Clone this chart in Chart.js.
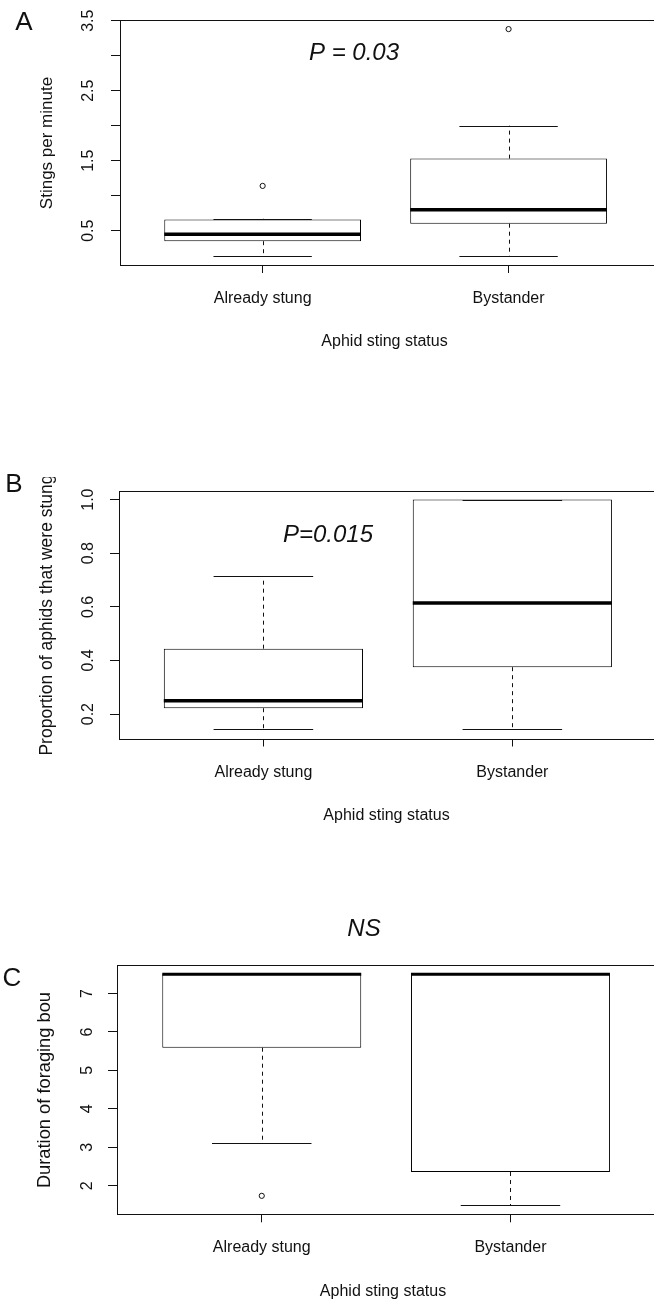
<!DOCTYPE html>
<html>
<head>
<meta charset="utf-8">
<script src="https://cdn.jsdelivr.net/npm/chart.js@4.4.1/dist/chart.umd.min.js"></script>
<style>
  body { margin: 0; background: #fff; width: 654px; height: 1303px; overflow: hidden; position: relative; }
  .panel { position: absolute; left: 0; }
  canvas { display: block; }
</style>
</head>
<body>
<div class="panel" style="top:0px"><canvas id="chartA" width="654" height="360" style="width:654px;height:360px"></canvas></div>
<div class="panel" style="top:470px"><canvas id="chartB" width="654" height="380" style="width:654px;height:380px"></canvas></div>
<div class="panel" style="top:910px"><canvas id="chartC" width="654" height="393" style="width:654px;height:393px"></canvas></div>
<script>
// categories on the x axis
const categories = ['Already stung', 'Bystander'];
const xTitle = 'Aphid sting status';

// A - stings per minute (lower whisker, Q1, median, Q3, upper whisker, outliers)
const stingsLow = [0.14, 0.14];
const stingsQ1 = [0.35, 0.60];
const stingsMed = [0.45, 0.80];
const stingsQ3 = [0.66, 1.53];
const stingsHigh = [0.67, 2.00];
const stingsOut = [[1.14], [3.38]];
const stingsTicks = [0.5, 1, 1.5, 2, 2.5, 3, 3.5];
const stingsTickLabels = ['0.5', '', '1.5', '', '2.5', '', '3.5'];

// B - proportion of aphids that were stung
const propLow = [0.143, 0.143];
const propQ1 = [0.222, 0.375];
const propMed = [0.25, 0.614];
const propQ3 = [0.444, 1.0];
const propHigh = [0.714, 1.0];
const propOut = [[], []];
const propTicks = [0.2, 0.4, 0.6, 0.8, 1.0];
const propTickLabels = ['0.2', '0.4', '0.6', '0.8', '1.0'];

// C - duration of foraging bout
const durLow = [3.11, 1.5];
const durQ1 = [5.59, 2.36];
const durMed = [7.5, 7.5];
const durQ3 = [7.5, 7.5];
const durHigh = [7.5, 7.5];
const durOut = [[1.74], []];
const durTicks = [2, 3, 4, 5, 6, 7];
const durTickLabels = ['2', '3', '4', '5', '6', '7'];

const FONT = 'Liberation Sans, Arial, Helvetica, sans-serif';
const INK = '#111';

// whiskers, medians, frame and the loose text of each panel
function boxExtras(p) {
    return {
        id: 'boxExtras',
        afterDatasetsDraw(chart) {
            const ctx = chart.ctx;
            const x = chart.scales.x, y = chart.scales.y;
            ctx.save();
            ctx.strokeStyle = INK;
            ctx.lineWidth = 1;
            categories.forEach((c, i) => {
                const cx = Math.round(x.getPixelForValue(i + 1)) + 0.5;
                const capL = x.getPixelForValue(i + 1 - 0.2), capR = x.getPixelForValue(i + 1 + 0.2);
                const yQ1 = y.getPixelForValue(p.q1[i]), yQ3 = y.getPixelForValue(p.q3[i]);
                const yLo = y.getPixelForValue(p.low[i]), yHi = y.getPixelForValue(p.high[i]);
                ctx.setLineDash([4, 4]);
                ctx.beginPath();
                ctx.moveTo(cx, yQ3); ctx.lineTo(cx, yHi);
                ctx.moveTo(cx, yQ1); ctx.lineTo(cx, yLo);
                ctx.stroke();
                ctx.setLineDash([]);
                ctx.beginPath();
                ctx.moveTo(capL, Math.round(yHi) + 0.5); ctx.lineTo(capR, Math.round(yHi) + 0.5);
                ctx.moveTo(capL, Math.round(yLo) + 0.5); ctx.lineTo(capR, Math.round(yLo) + 0.5);
                ctx.stroke();
                // median
                ctx.strokeStyle = '#000';
                ctx.lineWidth = p.medWidth;
                ctx.beginPath();
                ctx.moveTo(x.getPixelForValue(i + 1 - 0.4), y.getPixelForValue(p.med[i]));
                ctx.lineTo(x.getPixelForValue(i + 1 + 0.4), y.getPixelForValue(p.med[i]));
                ctx.stroke();
                ctx.strokeStyle = INK;
                ctx.lineWidth = 1;
            });
            ctx.restore();
        },
        afterDraw(chart) {
            const ctx = chart.ctx;
            const a = chart.chartArea;
            const y = chart.scales.y;
            ctx.save();
            // plot frame (right side runs off the page)
            ctx.strokeStyle = INK;
            ctx.lineWidth = 1;
            ctx.strokeRect(Math.round(a.left) + 0.5, Math.round(a.top) + 0.5, a.right - a.left + 10, Math.round(a.bottom) - Math.round(a.top));

            ctx.fillStyle = INK;
            // rotated y tick labels
            ctx.font = '16px ' + FONT;
            ctx.textAlign = 'center';
            ctx.textBaseline = 'middle';
            p.ticks.forEach((v, i) => {
                if (!p.tickLabels[i]) return;
                ctx.save();
                ctx.translate(p.tickLabelX, y.getPixelForValue(v));
                ctx.rotate(-Math.PI / 2);
                ctx.fillText(p.tickLabels[i], 0, 0);
                ctx.restore();
            });
            // y title, clipped at the top like the original
            ctx.save();
            ctx.beginPath();
            ctx.rect(0, p.clipTop, chart.width, chart.height);
            ctx.clip();
            ctx.font = p.yTitleSize + 'px ' + FONT;
            ctx.translate(p.yTitleX, p.yTitleY);
            ctx.rotate(-Math.PI / 2);
            ctx.fillText(p.yTitle, 0, 0);
            ctx.restore();
            // panel letter
            ctx.font = '26px ' + FONT;
            ctx.fillText(p.letter, p.letterX, p.letterY);
            // test result
            ctx.font = 'italic 24px ' + FONT;
            ctx.fillText(p.note, p.noteX, p.noteY);
            ctx.restore();
        }
    };
}

function makePanel(canvasId, p) {
    const canvas = document.getElementById(canvasId);
    const H = canvas.height;
    const outPts = [];
    p.out.forEach((arr, i) => arr.forEach(v => outPts.push({ x: i + 1, y: v })));
    return new Chart(canvas, {
        type: 'bar',
        data: {
            datasets: [{
                type: 'bar',
                data: categories.map((c, i) => ({ x: i + 1, y: [p.q1[i], p.q3[i]] })),
                backgroundColor: '#ffffff',
                borderColor: '#000',
                borderWidth: 1,
                borderSkipped: false,
                barPercentage: 0.8,
                categoryPercentage: 1
            }, {
                type: 'scatter',
                data: outPts,
                pointRadius: 2.6,
                pointBorderWidth: 1,
                pointBorderColor: INK,
                pointBackgroundColor: '#ffffff'
            }]
        },
        options: {
            responsive: false,
            animation: false,
            devicePixelRatio: 1,
            events: [],
            layout: { padding: { top: p.top, left: 0, right: 0, bottom: 0 } },
            plugins: { legend: { display: false }, tooltip: { enabled: false } },
            scales: {
                x: {
                    type: 'linear',
                    min: p.xMin,
                    max: p.xMax,
                    offset: false,
                    border: { display: false },
                    grid: { display: true, offset: false, drawOnChartArea: false, drawTicks: true, tickLength: 8, color: INK },
                    ticks: {
                        autoSkip: false, maxRotation: 0, minRotation: 0, padding: 16, color: INK,
                        font: { family: FONT, size: 16 },
                        callback: v => categories[Math.round(v) - 1] || ''
                    },
                    title: {
                        display: true, text: xTitle, color: INK,
                        font: { family: FONT, size: 16 },
                        padding: { top: 0, bottom: H - 9.6 - p.bottom - 77 }
                    },
                    afterBuildTicks: s => { s.ticks = categories.map((c, i) => ({ value: i + 1 })); },
                    afterFit: s => { s.height = H - p.bottom; }
                },
                y: {
                    type: 'linear',
                    min: p.yMin,
                    max: p.yMax,
                    border: { display: false },
                    grid: { display: true, drawOnChartArea: false, drawTicks: true, tickLength: 9, color: INK },
                    ticks: { display: false },
                    afterBuildTicks: s => { s.ticks = p.ticks.map(v => ({ value: v })); },
                    afterFit: s => { s.width = p.left; }
                }
            }
        },
        plugins: [boxExtras(p)]
    });
}

makePanel('chartA', {
    low: stingsLow, q1: stingsQ1, med: stingsMed, q3: stingsQ3, high: stingsHigh, out: stingsOut,
    ticks: stingsTicks, tickLabels: stingsTickLabels,
    yMin: 0.01, yMax: 3.51, xMin: 0.42, xMax: 2.571,
    top: 20, bottom: 265, left: 120, medWidth: 3.5,
    tickLabelX: 89, yTitleX: 47, yTitleY: 143, yTitleSize: 17, yTitle: 'Stings per minute', clipTop: 0,
    letter: 'A', letterX: 24, letterY: 23,
    note: 'P = 0.03', noteX: 354, noteY: 53
});

makePanel('chartB', {
    low: propLow, q1: propQ1, med: propMed, q3: propQ3, high: propHigh, out: propOut,
    ticks: propTicks, tickLabels: propTickLabels,
    yMin: 0.109, yMax: 1.034, xMin: 0.42, xMax: 2.569,
    top: 20.5, bottom: 268.5, left: 119, medWidth: 3.5,
    tickLabelX: 89, yTitleX: 47, yTitleY: 145, yTitleSize: 17.5, yTitle: 'Proportion of aphids that were stung', clipTop: 7,
    letter: 'B', letterX: 14, letterY: 15,
    note: 'P=0.015', noteX: 328, noteY: 65
});

makePanel('chartC', {
    low: durLow, q1: durQ1, med: durMed, q3: durQ3, high: durHigh, out: durOut,
    ticks: durTicks, tickLabels: durTickLabels,
    yMin: 1.26, yMax: 7.74, xMin: 0.418, xMax: 2.557,
    top: 55, bottom: 304.3, left: 117, medWidth: 3,
    tickLabelX: 88, yTitleX: 45, yTitleY: 177.5, yTitleSize: 18.3, yTitle: 'Duration of foraging bout', clipTop: 83,
    letter: 'C', letterX: 12, letterY: 69,
    note: 'NS', noteX: 364, noteY: 19
});
</script>
</body>
</html>
